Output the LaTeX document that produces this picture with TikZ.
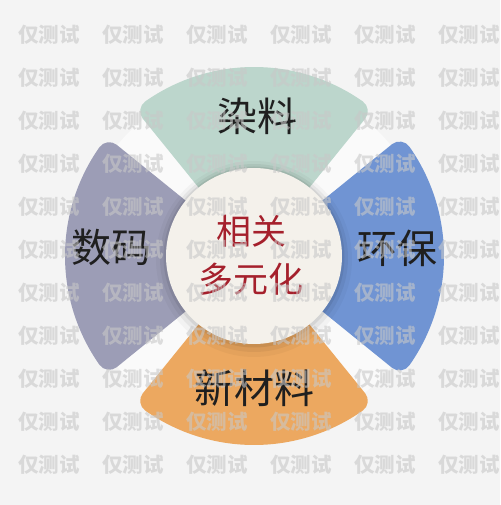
\documentclass[tikz,border=0pt]{standalone}
\usepackage{fontspec}
\newfontfamily\cjk{Noto Sans CJK SC}
\usetikzlibrary{calc}
\definecolor{bgc}{RGB}{244,244,244}
\definecolor{bandc}{RGB}{250,250,250}
\definecolor{mintc}{RGB}{188,214,204}
\definecolor{lavc}{RGB}{156,157,182}
\definecolor{bluec}{RGB}{112,148,211}
\definecolor{orangec}{RGB}{236,168,96}
\definecolor{creamc}{RGB}{244,241,235}
\definecolor{redc}{RGB}{165,32,44}
\definecolor{wmc}{RGB}{200,200,200}
\def\segrc{12}
\newcommand\ringseg[4]{%
  \pgfmathsetmacro\segrr{#4-\segrc}%
  \pgfmathsetmacro\segdd{asin(\segrc/\segrr)}%
  \pgfmathsetmacro\segdi{atan(\segrc/40)}%
  \pgfmathsetmacro\segri{sqrt(1600+\segrc*\segrc)}%
  \pgfmathsetmacro\sega{#2+\segdd}%
  \pgfmathsetmacro\segb{#3-\segdd}%
  \pgfmathsetmacro\segc{#2+\segdi}%
  \pgfmathsetmacro\segd{#3-\segdi}%
  \filldraw[fill=#1,draw=#1,line width=24pt,line join=round]
    (\segc:\segri) -- (\sega:\segrr) arc[start angle=\sega,end angle=\segb,radius=\segrr] -- (\segd:\segri) -- cycle;
}
\tikzset{
  seglabel/.style={font=\cjk\fontsize{40}{40}\selectfont, text=black!88, inner sep=0pt},
  hubtext/.style={font=\cjk\fontsize{35}{48}\selectfont, text=redc, align=center, inner sep=0pt},
  wm/.style={font=\cjk\bfseries\fontsize{20.5}{20.5}\selectfont, text=wmc, text opacity=0.6, inner sep=0pt}
}
\begin{document}
\begin{tikzpicture}[x=1pt,y=1pt]
\useasboundingbox (-254,-249) rectangle (246,256);
\fill[bgc] (-254,-249) rectangle (246,256);
% white bands behind the segments
\fill[bandc] (0,0) circle (176);
% ring segments
\ringseg{mintc}{51}{129}{189}
\ringseg{lavc}{141}{219}{189}
\ringseg{orangec}{231}{309}{189}
\ringseg{bluec}{-39}{39}{190}
% shadow and hub
\fill[black,opacity=0.03] (0,-3) circle (98);
\fill[black,opacity=0.05] (0,-2) circle (94);
\fill[black,opacity=0.07] (0,-1) circle (90.5);
\fill[creamc] (0,0) circle (88);
% labels
\node[seglabel] (dye) at (3,140) {染料};
\node[seglabel] (digital) at (-142,9) {数码};
\node[seglabel] (eco) at (143,8) {环保};
\node[seglabel] (newmat) at (0,-132) {新材料};
\node[hubtext] (hub) at (-3,1) {相关\\多元化};
% watermark
\foreach \wx in {49,133,217,301,385,469}{
  \foreach \wy in {35,78,...,465}{
    \node[wm] (wm-\wx-\wy) at ({\wx-254},{256-\wy}) {仅测试};
  }
}
\end{tikzpicture}
\end{document}
